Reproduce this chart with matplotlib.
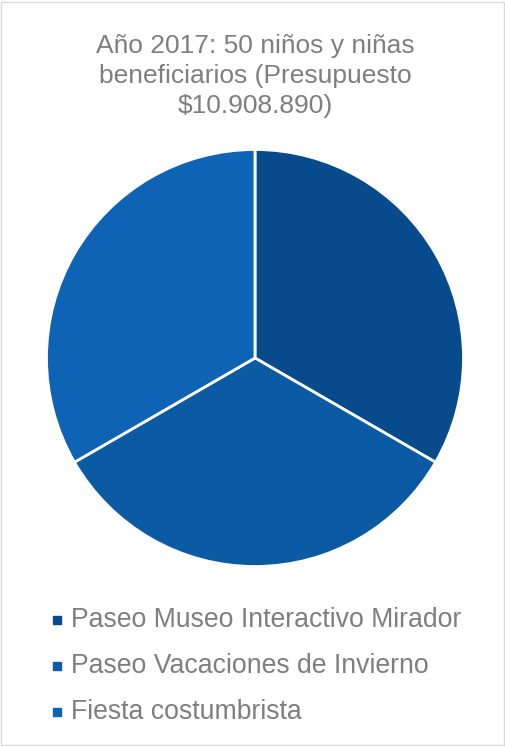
import matplotlib.pyplot as plt
from matplotlib.patches import Rectangle

plt.rcParams['font.family'] = ['Liberation Sans', 'DejaVu Sans']

# data
labels = ['Paseo Museo Interactivo Mirador', 'Paseo Vacaciones de Invierno', 'Fiesta costumbrista']
values = [1, 1, 1]
colors = ['#084b8c', '#0a5aa4', '#0f63b4']
title = 'Año 2017: 50 niños y niñas\nbeneficiarios (Presupuesto\n$10.908.890)'

W, H = 506, 746
fig = plt.figure(figsize=(W / 100, H / 100), dpi=100)

# frame around the chart
fig.patches.append(Rectangle((1 / W, 1 / H), (W - 3) / W, (H - 3) / H, transform=fig.transFigure,
                             fill=False, edgecolor='#d9d9d9', linewidth=1))

cx, cy, r = 255, 358, 208.5
ax = fig.add_axes([(cx - r) / W, (H - cy - r) / H, 2 * r / W, 2 * r / H])
wedges, _ = ax.pie(values, colors=colors, startangle=90, counterclock=False,
                   wedgeprops=dict(edgecolor='white', linewidth=2))
ax.set_xlim(-1, 1)
ax.set_ylim(-1, 1)
ax.set_aspect('equal')

fig.text(255 / W, 1 - 76 / H, title, ha='center', va='center', fontsize=19,
         color='#7f7f7f', linespacing=1.3)

# legend
rows = [620, 666, 712]
for lab, col, y in zip(labels, colors, rows):
    fig.patches.append(Rectangle((53 / W, 1 - (y + 4) / H), 8 / W, 8 / H,
                                 transform=fig.transFigure, color=col))
    fig.text(71 / W, 1 - y / H, lab, ha='left', va='center', fontsize=19.2, color='#7f7f7f')

fig.savefig('out.png', dpi=100)
